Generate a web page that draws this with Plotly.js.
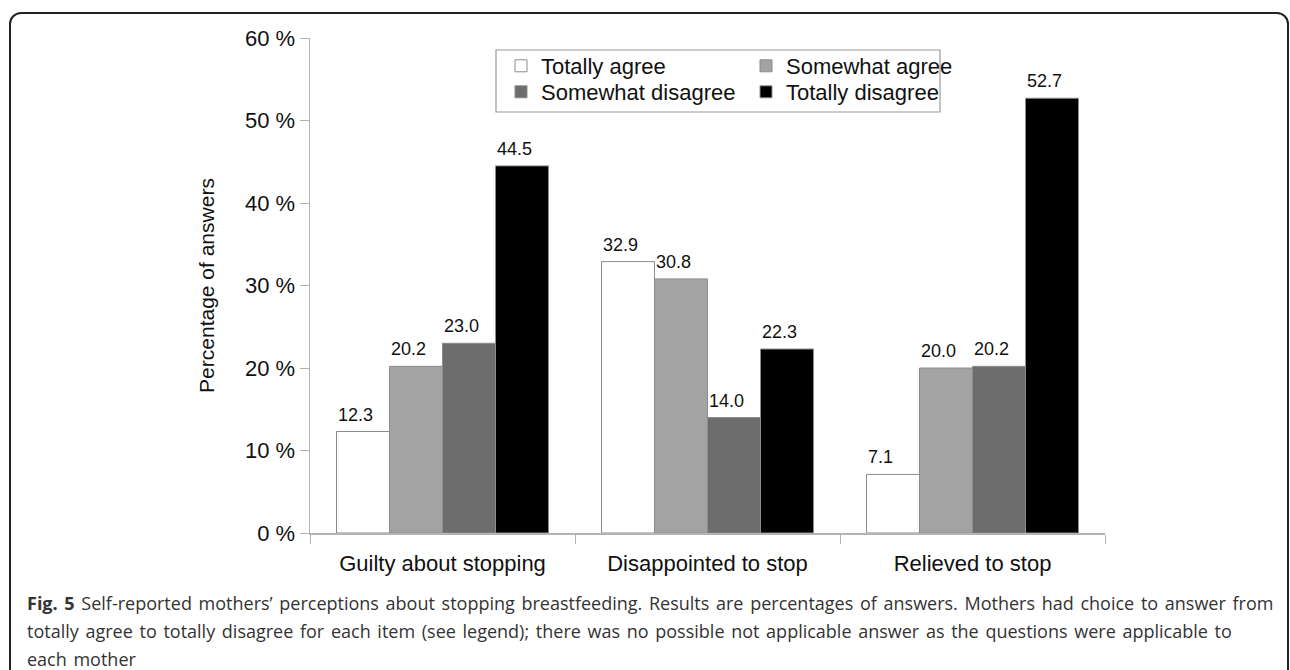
<!DOCTYPE html>
<html>
<head>
<meta charset="utf-8">
<script src="https://cdn.plot.ly/plotly-3.0.1.min.js"></script>
<style>
  html, body { margin: 0; padding: 0; background: #fff; overflow: hidden; }
  #frame { position: absolute; left: 9px; top: 12px; width: 1280px; height: 720px;
           box-sizing: border-box; border: 2px solid #222; border-radius: 12px; }
  #chart { position: absolute; left: 0; top: 0; width: 1290px; height: 670px; }
  #chart .annotation-text { word-spacing: 2px; }
</style>
</head>
<body>
<div id="frame"></div>
<div id="chart"></div>
<script>
// ---- data ----
const categories = ["Guilty about stopping", "Disappointed to stop", "Relieved to stop"];
const seriesNames = ["Totally agree", "Somewhat agree", "Somewhat disagree", "Totally disagree"];
const totallyAgree = [12.3, 32.9, 7.1];
const somewhatAgree = [20.2, 30.8, 20.0];
const somewhatDisagree = [23.0, 14.0, 20.2];
const totallyDisagree = [44.5, 22.3, 52.7];
const yTickValues = [0, 10, 20, 30, 40, 50, 60];
const yTickLabels = ["0 %", "10 %", "20 %", "30 %", "40 %", "50 %", "60 %"];
const captionLines = [
  "<b>Fig. 5</b> Self-reported mothers’ perceptions about stopping breastfeeding. Results are percentages of answers. Mothers had choice to answer from",
  "totally agree to totally disagree for each item (see legend); there was no possible not applicable answer as the questions were applicable to",
  "each mother"
];

// ---- styling ----
const seriesValues = [totallyAgree, somewhatAgree, somewhatDisagree, totallyDisagree];
const fills = ["#ffffff", "#a3a3a3", "#6d6d6d", "#000000"];
const legendFor = ["legend", "legend", "legend2", "legend2"];

// layout geometry (px)
const W = 1290, H = 670;
const M = {l: 310, r: 185, t: 38, b: 137};
const plotW = W - M.l - M.r, plotH = H - M.t - M.b;
const bargap = 0.2;
const barPx = plotW / categories.length * (1 - bargap) / seriesNames.length;
const px2x = p => (p - M.l) / plotW;
const py2y = p => (H - M.b - p) / plotH;

const traces = seriesValues.map((vals, i) => ({
  type: "bar",
  name: seriesNames[i],
  x: categories,
  y: vals,
  legend: legendFor[i],
  marker: {color: fills[i], line: {color: "#8c8c8c", width: 1}},
  hoverinfo: "x+y+name"
}));

const annotations = [];
seriesValues.forEach((vals, i) => {
  vals.forEach((v, j) => {
    annotations.push({
      x: categories[j], y: v, xref: "x", yref: "y",
      text: v.toFixed(1), showarrow: false,
      xanchor: "left", yanchor: "bottom",
      xshift: (i - seriesNames.length / 2) * barPx - 1, yshift: 5,
      font: {family: "Liberation Sans, Arial, sans-serif", size: 18, color: "#111"}
    });
  });
});
captionLines.forEach((t, k) => {
  annotations.push({
    x: px2x(25), y: py2y(603 + 28 * k), xref: "paper", yref: "paper",
    xanchor: "left", yanchor: "middle", showarrow: false, align: "left",
    text: t,
    font: {family: "Open Sans, sans-serif", size: 18, color: "#333"}
  });
});

const legendCommon = {
  xanchor: "left", yanchor: "top",
  orientation: "h", bgcolor: "rgba(0,0,0,0)", borderwidth: 0,
  entrywidth: 200, entrywidthmode: "pixels",
  font: {size: 22, color: "#111"}, traceorder: "normal"
};

const layout = {
  width: W, height: H,
  margin: M,
  paper_bgcolor: "rgba(0,0,0,0)",
  plot_bgcolor: "rgba(0,0,0,0)",
  font: {family: "Liberation Sans, Arial, sans-serif", size: 22, color: "#111"},
  barmode: "group",
  bargap: bargap,
  bargroupgap: 0,
  xaxis: {
    type: "category",
    showline: true, linecolor: "#b3b3b3", linewidth: 1.5,
    ticks: "outside", tickson: "boundaries", ticklen: 9, tickcolor: "#b3b3b3",
    ticklabelstandoff: 10,
    showgrid: false, zeroline: false,
    tickfont: {family: "Liberation Sans, Arial, sans-serif", size: 22, color: "#111"}
  },
  yaxis: {
    range: [0, 60], tickmode: "array", tickvals: yTickValues, ticktext: yTickLabels,
    showline: true, linecolor: "#b3b3b3", linewidth: 1.5,
    ticks: "outside", ticklen: 9, tickcolor: "#b3b3b3",
    showgrid: false, zeroline: false,
    tickfont: {family: "Liberation Sans, Arial, sans-serif", size: 22, color: "#111"},
    title: {text: "Percentage of answers", standoff: 24,
            font: {family: "Liberation Sans, Arial, sans-serif", size: 21, color: "#111"}}
  },
  showlegend: true,
  legend: Object.assign({x: px2x(501), y: py2y(45)}, legendCommon),
  legend2: Object.assign({x: px2x(501), y: py2y(71)}, legendCommon),
  shapes: [{
    type: "rect", xref: "paper", yref: "paper",
    x0: px2x(496), x1: px2x(940), y0: py2y(112), y1: py2y(50),
    line: {color: "#9a9a9a", width: 1.2}, fillcolor: "rgba(255,255,255,0)", layer: "below"
  }],
  annotations: annotations
};

Plotly.newPlot("chart", traces, layout, {displayModeBar: false, staticPlot: true});
</script>
</body>
</html>
